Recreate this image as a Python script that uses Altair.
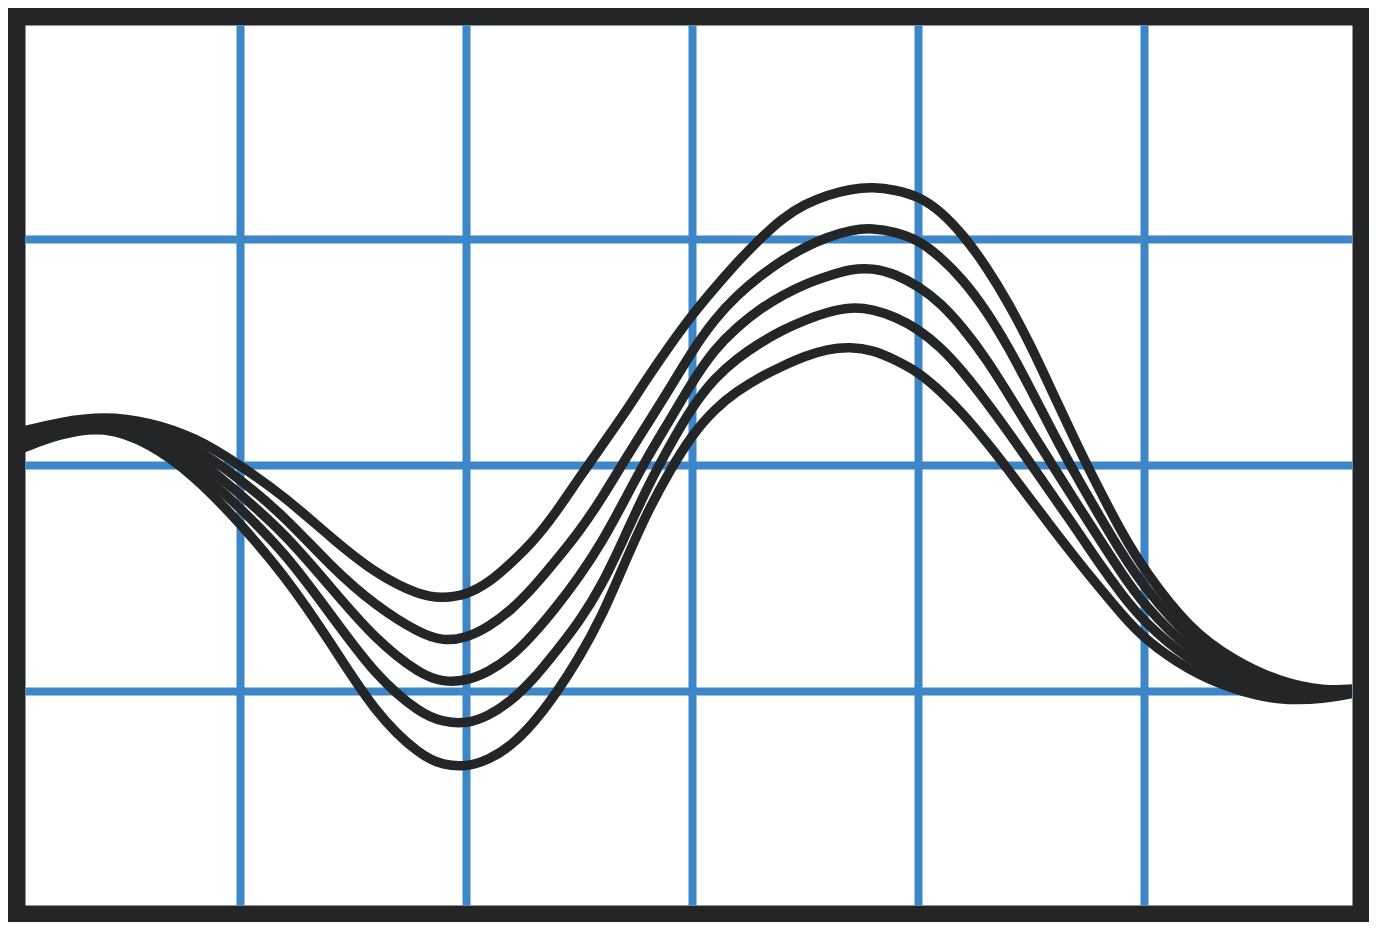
import altair as alt
import pandas as pd

# x positions (grid units: vertical grid lines at 1..5)
x_vals = [0.04, 0.2, 0.4, 0.6, 0.8,
          1.0, 1.2, 1.4, 1.6, 1.8,
          1.9, 2.0, 2.1,
          2.2, 2.3, 2.4, 2.5, 2.6, 2.7, 2.8, 2.9,
          3.0, 3.1, 3.2, 3.3, 3.4, 3.5, 3.6, 3.7, 3.8, 3.9,
          4.0, 4.1, 4.2, 4.3, 4.4, 4.5, 4.6, 4.7, 4.8, 4.9,
          5.0, 5.2, 5.4, 5.6, 5.8, 5.93]

curve_1 = [0.150, 0.190, 0.217, 0.190, 0.124,
           0.000, -0.142, -0.319, -0.482, -0.580,
           -0.589, -0.575, -0.522,
           -0.434, -0.336, -0.208, -0.058, 0.084, 0.226, 0.381, 0.527,
           0.664, 0.783, 0.898, 1.000, 1.093, 1.155, 1.195, 1.221, 1.230, 1.217,
           1.190, 1.124, 1.018, 0.881, 0.717, 0.527, 0.310, 0.097, -0.106, -0.296,
           -0.465, -0.726, -0.867, -0.960, -1.000, -0.991]

curve_2 = [0.133, 0.177, 0.204, 0.168, 0.080,
           -0.062, -0.230, -0.447, -0.624, -0.748,
           -0.779, -0.766, -0.717,
           -0.642, -0.540, -0.420, -0.296, -0.150, 0.018, 0.177, 0.336,
           0.504, 0.646, 0.752, 0.836, 0.907, 0.965, 1.009, 1.040, 1.049, 1.031,
           0.996, 0.920, 0.819, 0.686, 0.522, 0.332, 0.137, -0.049, -0.221, -0.389,
           -0.540, -0.774, -0.898, -0.982, -1.009, -0.996]

curve_3 = [0.111, 0.164, 0.195, 0.146, 0.040,
           -0.128, -0.305, -0.540, -0.774, -0.929,
           -0.960, -0.956, -0.916,
           -0.850, -0.748, -0.628, -0.496, -0.345, -0.159, 0.031, 0.195,
           0.367, 0.513, 0.611, 0.690, 0.752, 0.801, 0.836, 0.867, 0.872, 0.845,
           0.792, 0.717, 0.606, 0.473, 0.314, 0.150, -0.009, -0.168, -0.323, -0.478,
           -0.620, -0.823, -0.929, -1.004, -1.018, -1.000]

curve_4 = [0.093, 0.150, 0.181, 0.119, -0.004,
           -0.190, -0.389, -0.659, -0.934, -1.102,
           -1.137, -1.146, -1.111,
           -1.044, -0.947, -0.823, -0.695, -0.535, -0.323, -0.102, 0.084,
           0.257, 0.385, 0.473, 0.540, 0.597, 0.642, 0.677, 0.699, 0.690, 0.655,
           0.602, 0.522, 0.412, 0.283, 0.146, 0.004, -0.142, -0.283, -0.434, -0.571,
           -0.695, -0.867, -0.965, -1.027, -1.027, -1.004]

curve_5 = [0.075, 0.137, 0.173, 0.097, -0.049,
           -0.257, -0.491, -0.783, -1.102, -1.288,
           -1.328, -1.336, -1.305,
           -1.243, -1.142, -1.009, -0.854, -0.673, -0.438, -0.212, -0.027,
           0.133, 0.248, 0.327, 0.389, 0.438, 0.482, 0.513, 0.522, 0.509, 0.465,
           0.412, 0.327, 0.226, 0.106, -0.022, -0.155, -0.288, -0.416, -0.540, -0.659,
           -0.770, -0.912, -0.996, -1.044, -1.035, -1.009]

x_grid = [1, 2, 3, 4, 5]
y_grid = [-1, 0, 1]
x_domain = [0.049, 5.92]
y_domain = [-1.947, 1.947]

rows = []
for name, ys in [("1", curve_1), ("2", curve_2), ("3", curve_3), ("4", curve_4), ("5", curve_5)]:
    for xv, yv in zip(x_vals, ys):
        rows.append({"x": xv, "y": yv, "series": name})
df = pd.DataFrame(rows)

DARK = "#232527"
BLUE = "#3d87c9"

chart = alt.Chart(df).mark_line(
    color=DARK, strokeWidth=9.5, interpolate="basis", clip=True
).encode(
    x=alt.X("x:Q", scale=alt.Scale(domain=x_domain, nice=False, zero=False),
            axis=alt.Axis(values=x_grid, grid=True, gridColor=BLUE, gridWidth=8,
                          gridOpacity=1, domain=False, ticks=False, labels=False),
            title=""),
    y=alt.Y("y:Q", scale=alt.Scale(domain=y_domain, nice=False, zero=False),
            axis=alt.Axis(values=y_grid, grid=True, gridColor=BLUE, gridWidth=8,
                          gridOpacity=1, domain=False, ticks=False, labels=False),
            title=""),
    detail="series:N",
).properties(
    width=1327,
    height=880,
    background=DARK,
    padding={"left": 17, "right": 17, "top": 17, "bottom": 17},
    autosize=alt.AutoSizeParams(type="none"),
).configure_view(
    fill="white", stroke="transparent"
)

chart.save("out.html", embed_options={"renderer": "svg", "actions": False})
